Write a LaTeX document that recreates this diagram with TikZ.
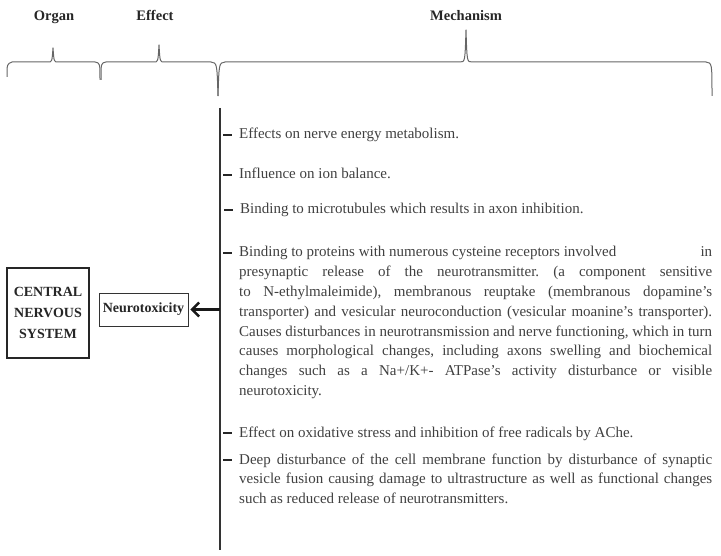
\documentclass[tikz,border=0pt]{standalone}
\usepackage{fontspec}
\setmainfont{Liberation Serif}
\frenchspacing
\usetikzlibrary{positioning}
\usetikzlibrary{arrows.meta}
\tikzset{
    mynode/.style = {rectangle, draw=black!80, line width=0.8pt, align=center, font=\fontsize{14}{17}\selectfont\bfseries, text=black!85, inner sep=2pt},
    mynodeb/.style = {rectangle, draw=black!85, line width=2.6pt, align=center, font=\fontsize{14}{21}\selectfont\bfseries, text=black!85},
    myhead/.style = {anchor=base, font=\fontsize{14.5}{17}\selectfont\bfseries, text=black!85},
    mytext/.style = {anchor=base west, inner sep=0pt, text width=473pt, align=justify, font=\fontsize{15}{19.8}\selectfont, text=black!75},
    edgen/.style = {-, line width=1.3pt, black!80},
    edget/.style = {-, line width=1.8pt, black!85},
    edgea/.style = {-{Straight Barb[length=7pt,width=14pt]}, line width=2.4pt, black!90},
    edgeg/.style = {-, line width=1pt, black!60, line join=round}
}

\begin{document}
\begin{tikzpicture}[x=1pt, y=-1pt]
  \useasboundingbox (0,0) rectangle (721,556);

  % headers
  \node[myhead] (organ) at (54,20.5) {Organ};
  \node[myhead] (effect) at (155,20.5) {Effect};
  \node[myhead] (mech) at (466,20.5) {Mechanism};

  % braces
  \draw[edgeg] (7,77) .. controls (7,64) .. (12,62) -- (48,62) .. controls (52,62) .. (53,48)
    .. controls (54,62) .. (58,62) -- (95,62) .. controls (100,63) .. (100,80);
  \draw[edgeg] (101,80) .. controls (101,63) .. (106,62) -- (154,62) .. controls (158,62) .. (159,45)
    .. controls (160,62) .. (164,62) -- (211,62) .. controls (217,63) .. (218,96);
  \draw[edgeg] (218,96) .. controls (219,63) .. (225,62) -- (460,62) .. controls (465,62) .. (466,30)
    .. controls (467,62) .. (472,62) -- (706,62) .. controls (712,63) .. (712,96);

  % organ and effect
  \node[mynodeb, minimum width=82pt, minimum height=90pt] (cns) at (48,313) {CENTRAL\\NERVOUS\\SYSTEM};
  \node[mynode, minimum width=89pt, minimum height=33pt] (neuro) at (143.5,309.5) {Neurotoxicity};

  % mechanisms
  \coordinate (vtop) at (220,108);
  \coordinate (vbot) at (220,550);
  \draw[edgen] (vtop) -- (vbot);
  \draw[edgea, shorten >=2pt] (neuro -| vtop) -- (neuro.east);

  \node[mytext] (m1) at (239,139) {Effects on nerve energy metabolism.};
  \node[mytext] (m2) at (239,179) {Influence on ion balance.};
  \node[mytext] (m3) at (240,214) {Binding to microtubules which results in axon inhibition.};
  \node[mytext] (m4) at (239,257) {Binding to proteins with numerous cysteine receptors involved\hfill in\linebreak
    presynaptic release of the neurotransmitter. (a component sensitive\linebreak
    to N-ethylmaleimide), membranous reuptake (membranous dopamine's\linebreak
    transporter) and vesicular neuroconduction (vesicular moanine's transporter).\linebreak
    Causes disturbances in neurotransmission and nerve functioning, which in turn\linebreak
    causes morphological changes, including axons swelling and biochemical\linebreak
    changes such as a Na+/K+- ATPase's activity disturbance or visible\linebreak
    neurotoxicity.};
  \node[mytext] (m5) at (239,437) {Effect on oxidative stress and inhibition of free radicals by AChe.};
  \node[mytext] (m6) at (239,464) {Deep disturbance of the cell membrane function by disturbance of synaptic\linebreak
    vesicle fusion causing damage to ultrastructure as well as functional changes\linebreak
    such as reduced release of neurotransmitters.};

  \foreach \m in {m1,m2,m3,m4,m5,m6}
    \draw[edget] (\m.base west) ++(-16,-4) -- ++(9,0);
\end{tikzpicture}
\end{document}
